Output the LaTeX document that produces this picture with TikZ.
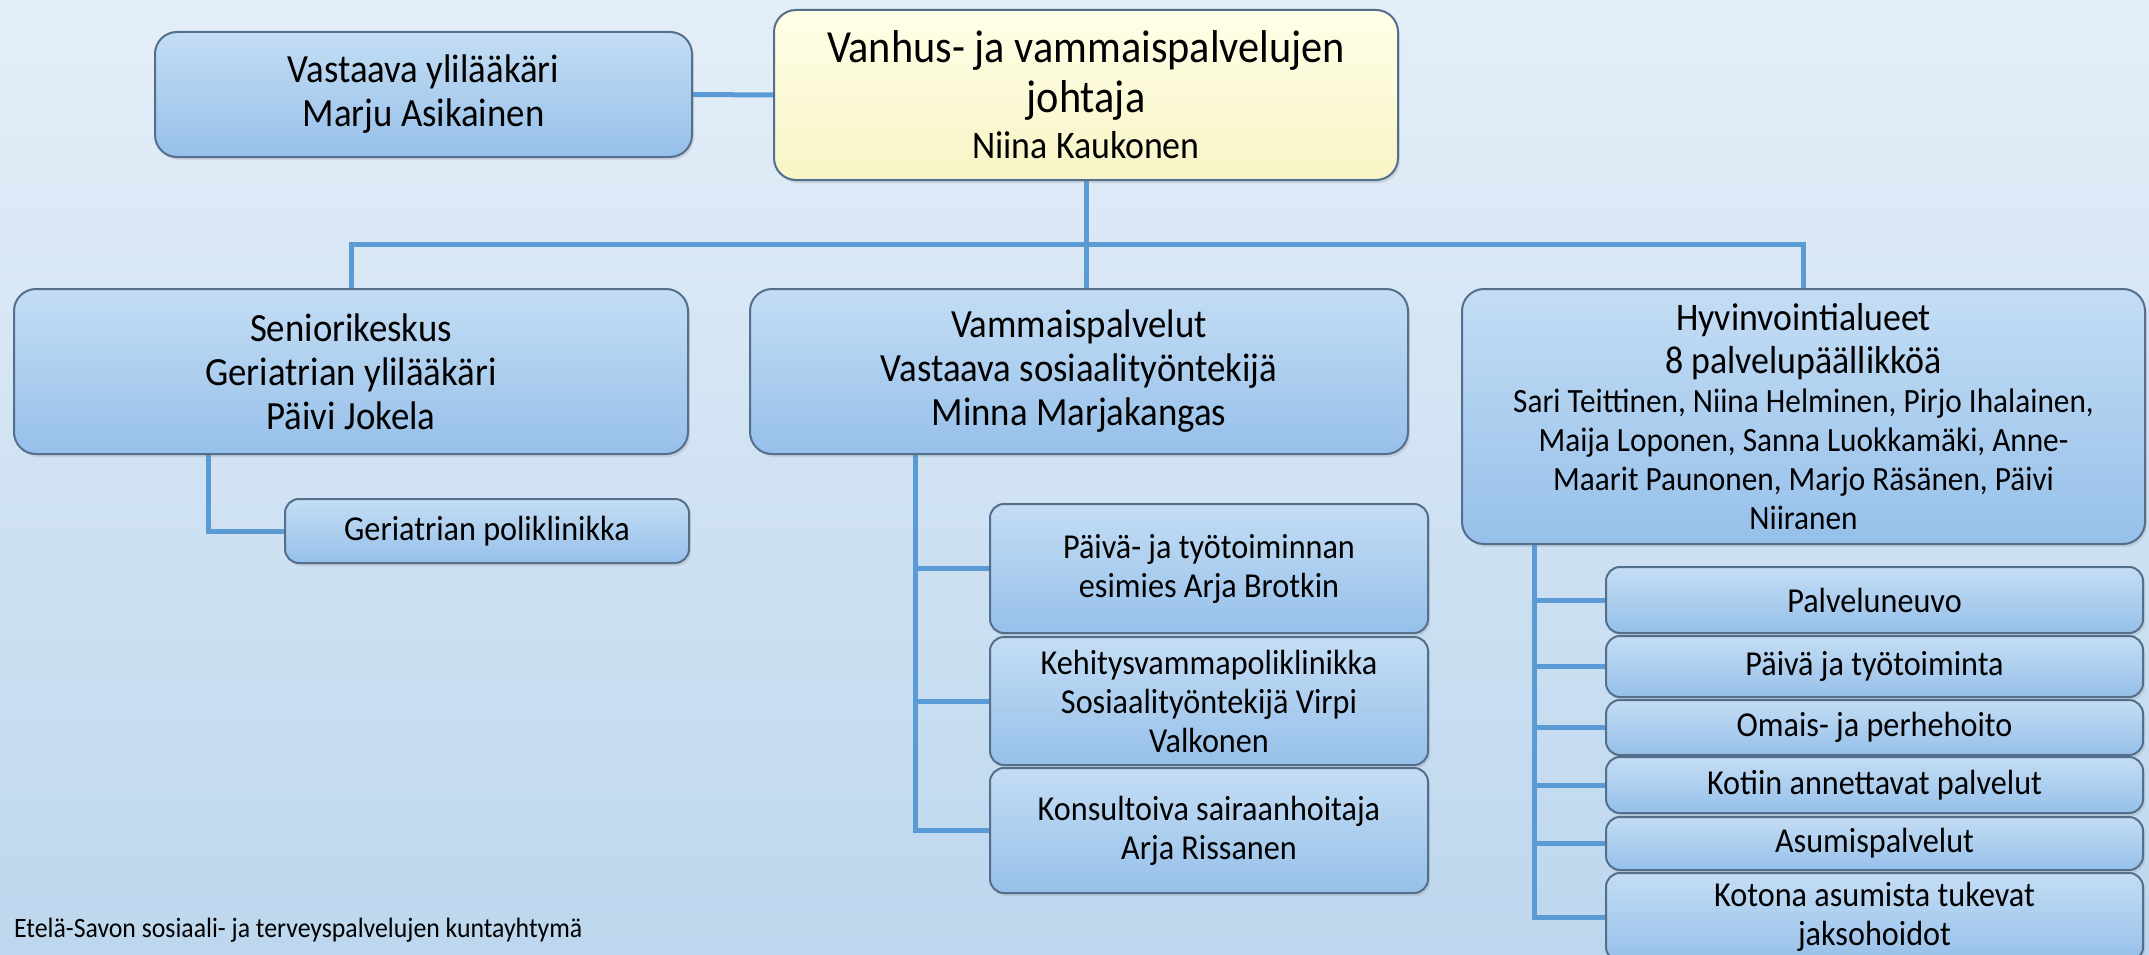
\documentclass[tikz,border=0pt]{standalone}
\usepackage{fontspec}
\setmainfont[FakeStretch=0.92]{Carlito}
\usepackage{tikz}
\usetikzlibrary{calc}
\usetikzlibrary{positioning}
\usetikzlibrary{shadows}
\usetikzlibrary{backgrounds}
\tikzset{>=latex}
\definecolor{bgtop}{HTML}{E4EEF8}
\definecolor{bgbot}{HTML}{BDD7EE}
\definecolor{boxtop}{HTML}{C4DDF4}
\definecolor{boxbot}{HTML}{96C0EA}
\definecolor{boxline}{HTML}{536F8C}
\definecolor{chieftop}{HTML}{FFFFE8}
\definecolor{chiefbot}{HTML}{F8F4C6}
\definecolor{linkblue}{HTML}{5B9BD5}
\newcommand{\fsz}[2]{\fontsize{#1}{#2}\selectfont}
\tikzstyle{unit} = [rectangle, rounded corners = 22pt, draw = boxline, line width = 2pt, top color = boxtop, bottom color = boxbot, align = center, inner sep = 0pt, font = \fsz{40}{44}, drop shadow = {shadow xshift = 2pt, shadow yshift = -3pt, opacity = 0.2}]
\tikzstyle{sub} = [unit, rounded corners = 14pt, font = \fsz{35}{39}]
\tikzstyle{chief} = [unit, top color = chieftop, bottom color = chiefbot, font = \fsz{46}{50}]
\tikzstyle{link} = [-, draw = linkblue, line width = 5pt]

\begin{document}
\begin{tikzpicture}[x = 1pt, y = -1pt]
\begin{scope}[on background layer]
\shade [top color = bgtop, bottom color = bgbot] (0, 0) rectangle (2149, 955);
\end{scope}
\useasboundingbox (0, 0) rectangle (2149, 955);

% top row
\node [chief, minimum width = 624, minimum height = 170] (dir) at (1086, 95) {Vanhus- ja vammaispalvelujen\\johtaja\\[-4pt]{\fsz{39}{44}Niina Kaukonen}};
\node [unit, minimum width = 537, minimum height = 125] (ylil) at (423.5, 94.5) {Vastaava ylilääkäri\\Marju Asikainen};

% second row
\node [unit, minimum width = 674, minimum height = 165] (seni) at (351, 371.5) {Seniorikeskus\\Geriatrian ylilääkäri\\Päivi Jokela};
\node [unit, minimum width = 658, minimum height = 165] (vamm) at (1079, 371.5) {Vammaispalvelut\\Vastaava sosiaalityöntekijä\\Minna Marjakangas};
\node [unit, minimum width = 683, minimum height = 255, font = \fsz{39}{43}] (hyv) at (1803.5, 416.5) {Hyvinvointialueet\\8 palvelupäällikköä\\[-4pt]{\fsz{34}{40}Sari Teittinen, Niina Helminen, Pirjo Ihalainen,}\\[-4pt]{\fsz{34}{40}Maija Loponen, Sanna Luokkamäki, Anne-}\\[-4pt]{\fsz{34}{40}Maarit Paunonen, Marjo Räsänen, Päivi}\\[-4pt]{\fsz{34}{40}Niiranen}};

% units below
\node [sub, minimum width = 404, minimum height = 64] (geri) at (487, 531) {Geriatrian poliklinikka};
\node [sub, minimum width = 438, minimum height = 129] (arja) at (1209, 568.5) {Päivä- ja työtoiminnan\\esimies Arja Brotkin};
\node [sub, minimum width = 438, minimum height = 128] (kehi) at (1209, 701) {Kehitysvammapoliklinikka\\Sosiaalityöntekijä Virpi\\Valkonen};
\node [sub, minimum width = 438, minimum height = 125] (kons) at (1209, 830.5) {Konsultoiva sairaanhoitaja\\Arja Rissanen};
\node [sub, minimum width = 537, minimum height = 66] (palv) at (1874.5, 600) {Palveluneuvo};
\node [sub, minimum width = 537, minimum height = 61] (paiv) at (1874.5, 666.5) {Päivä ja työtoiminta};
\node [sub, minimum width = 537, minimum height = 55] (omai) at (1874.5, 727.5) {Omais- ja perhehoito};
\node [sub, minimum width = 537, minimum height = 56] (koti) at (1874.5, 785) {Kotiin annettavat palvelut};
\node [sub, minimum width = 537, minimum height = 53] (asum) at (1874.5, 843.5) {Asumispalvelut};
\node [sub, minimum width = 537, minimum height = 88] (koto) at (1874.5, 917) {Kotona asumista tukevat\\jaksohoidot};

\node [anchor = west, inner sep = 0pt, font = \fsz{28}{30}] (foot) at (14, 930) {Etelä-Savon sosiaali- ja terveyspalvelujen kuntayhtymä};

\coordinate (bus) at (1086, 244);
\coordinate (vspine) at ([xshift = -164pt]vamm.south);
\coordinate (hspine) at ([xshift = -269.5pt]hyv.south);
\begin{scope}[on background layer]
\draw [link] (ylil.east) -- (dir.west);
\draw [link] (dir.south) -- (dir.south |- vamm.north);
\draw [link] (seni.north) |- (bus) -| (hyv.north);
\draw [link] ([xshift = -143pt]seni.south) |- (geri.west);
\draw [link] (vspine) |- (kons.west);
\foreach \k in {arja, kehi}
  \draw [link] (vspine |- \k.west) -- (\k.west);
\draw [link] (hspine) |- (koto.west);
\foreach \k in {palv, paiv, omai, koti, asum}
  \draw [link] (hspine |- \k.west) -- (\k.west);
\end{scope}
\end{tikzpicture}
\end{document}
